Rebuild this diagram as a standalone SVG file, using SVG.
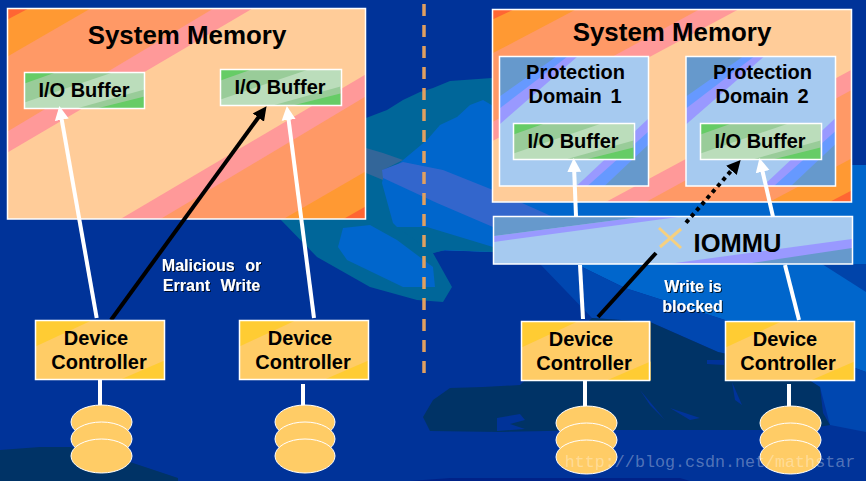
<svg xmlns="http://www.w3.org/2000/svg" width="866" height="481" viewBox="0 0 866 481">
<style>
text{font-family:"Liberation Sans",Arial,sans-serif;font-weight:700;fill:#000;text-anchor:middle}
.t26{font-size:25.900px}.t20{font-size:20px}.t15{font-size:16px;fill:#fff;filter:url(#sh)}.wide{word-spacing:6px}
.box{fill:none;stroke:#fff;stroke-width:1.5}
.wire{stroke:#fff;stroke-width:4;fill:none}
.blk{stroke:#000;stroke-width:4;fill:none}
.disk{fill:#FFCC66;stroke:#fff;stroke-width:1}
</style>
<defs>
<filter id="sh" x="-10%" y="-20%" width="125%" height="150%"><feDropShadow dx="1" dy="1" stdDeviation="0.4" flood-color="#000" flood-opacity=".8"/></filter>
<marker id="aw" markerUnits="userSpaceOnUse" markerWidth="16" markerHeight="16" refX="1" refY="8" orient="auto"><path d="M0,1 14,8 0,15z" fill="#fff"/></marker>
<marker id="ab" markerUnits="userSpaceOnUse" markerWidth="16" markerHeight="16" refX="1" refY="8" orient="auto"><path d="M0,1 14,8 0,15z" fill="#000"/></marker>
<g id="memBg">
<rect width="358" height="210.500" fill="#FFCC99"/>
<path d="M0,144 245,0H0z" fill="#FF9999"/><path d="M0,123 206,0H0z" fill="#FF9966"/><path d="M0,48 83,0H0z" fill="#FF9933"/><path d="M0,11 21,0H0z" fill="#FF6633"/>
<path d="M113,210.500 358,66V210.500z" fill="#FF9999"/><path d="M153,210.500 358,88V210.500z" fill="#FF9966"/><path d="M276,210.500 358,163V210.500z" fill="#FF9933"/><path d="M336,210.500 358,198V210.500z" fill="#FF6633"/>
</g>
<g id="bufBg">
<rect width="120" height="36" fill="#99CC99"/>
<path d="M0,30 88,0H120V17L52,36H0z" fill="#BBDDBB"/>
<path d="M0,11 31,0H0z" fill="#66CC66"/><path d="M72,36 120,24V36z" fill="#66CC66"/>
</g>
<g id="domBg">
<rect width="149" height="129.500" fill="#A6CAF0"/>
<path d="M0,68 78,0H0z" fill="#9999FF"/><path d="M0,52 68,0H0z" fill="#6699FF"/><path d="M0,40 57,0H0z" fill="#6699CC"/>
<path d="M77,129.500 149,62V129.500z" fill="#9999FF"/><path d="M88,129.500 149,75V129.500z" fill="#6699FF"/><path d="M105,129.500 149,88V129.500z" fill="#6699CC"/>
</g>
<g id="ctlBg">
<rect width="129" height="59" fill="#FFCC66"/>
<path d="M0,26 56,0H0z" fill="#FFCC33"/><path d="M85,59 129,40V59z" fill="#FFCC33"/>
</g>
</defs>
<g id="background">
<rect width="866" height="481" fill="#003399"/>
<path d="M280,219 317,257 370,287 417,300 443,302 452,287 433,253 445,250 493,252 560,268 560,150 492,78 450,81 433,88 420,92 403,100 387,110 366,118 366,219z" fill="#006699"/>
<path d="M427,140 440,125 457,117 470,105 483,100 500,110 852,165 866,165 866,372 725,320 678,305 625,288 578,265 520,262 493,252 433,250 427,227 397,227 393,223 382,183 383,178 403,160z" fill="#0066CC"/>
<path d="M397,227 427,227 493,247 560,262 560,268 493,252 445,250 433,253z" fill="#006699"/>
<path d="M366,148 383,153 403,160 383,170 383,180 366,173z" fill="#336699"/>
<path d="M382,170 403,162 443,170 493,190 560,220 560,250 493,227 437,203 383,178z" fill="#3366CC"/>
<path d="M338,247 343,228 370,225 397,240 433,267 435,287 403,287 347,260z" fill="#0066CC"/>
<path d="M822,264 866,292V264z" fill="#0044AA"/>
<path d="M540,264 578,265 625,288 678,305 725,320 866,372V432L830,425 820,387 790,368 718,352 650,322 592,318z" fill="#0047B0"/>
<path d="M423,417 433,400 450,388 483,387 520,385 592,318 650,322 718,352 790,368 820,387 823,413 830,425 800,430 600,430 500,432 430,431z" fill="#003366"/>
<path d="M497,418 520,414 525,420 510,424 525,429 497,431zM640,390 665,420 650,405zM670,408 700,418 690,420zM732,382 742,405 735,400zM707,360 724,360 724,365 707,364z" fill="#003399"/>
<path d="M0,450 40,447 70,447 130,462 178,478V481H0z" fill="#003366"/>
<path d="M410,481 450,478 680,478 690,481z" fill="#002288"/>
<line x1="424" y1="4" x2="424" y2="373" stroke="#E0A060" stroke-width="3.500" stroke-dasharray="12 9"/>
</g>
<g id="memory-left"><use href="#memBg" x="7.500" y="8.500"/><rect class="box" x="7.500" y="8.500" width="358" height="210.500"/><text class="t26" x="187" y="44">System Memory</text></g>
<g id="buffer-l1"><use href="#bufBg" x="24.500" y="72.500"/><rect class="box" x="24.500" y="72.500" width="120" height="36"/><text class="t20" x="84" y="97">I/O Buffer</text></g>
<g id="buffer-l2"><use href="#bufBg" x="220.500" y="69.500"/><rect class="box" x="220.500" y="69.500" width="121" height="36"/><text class="t20" x="280" y="94">I/O Buffer</text></g>
<g id="memory-right"><use href="#memBg" transform="translate(492.500 9.500) scale(1.003 .914)"/><rect class="box" x="492.500" y="9.500" width="359" height="192.500"/><text class="t26" x="672" y="41">System Memory</text></g>
<g id="domain-1"><use href="#domBg" x="499.500" y="56.500"/><rect class="box" x="499.500" y="56.500" width="149" height="129.500"/><text class="t20" x="575.500" y="79">Protection</text><text class="t20" x="575" y="103" style="word-spacing:3px">Domain 1</text></g>
<g id="domain-2"><use href="#domBg" x="686" y="56.500"/><rect class="box" x="686" y="56.500" width="149.500" height="129.500"/><text class="t20" x="762.500" y="79">Protection</text><text class="t20" x="762" y="103" style="word-spacing:3px">Domain 2</text></g>
<g id="buffer-r1"><use href="#bufBg" x="513.500" y="123.500"/><rect class="box" x="513.500" y="123.500" width="121" height="36"/><text class="t20" x="573" y="148">I/O Buffer</text></g>
<g id="buffer-r2"><use href="#bufBg" x="700.500" y="123.500"/><rect class="box" x="700.500" y="123.500" width="121" height="36"/><text class="t20" x="760" y="148">I/O Buffer</text></g>
<g id="iommu">
<rect x="493.500" y="216.500" width="359" height="47.500" fill="#A6CAF0"/>
<path d="M494,236 640,217H678L494,242z" fill="#9999FF"/><path d="M494,217V236L640,217z" fill="#6699CC"/>
<path d="M668,264 852,239V264z" fill="#9999FF"/><path d="M745,264 852,248V264z" fill="#6699CC"/>
<rect class="box" x="493.500" y="216.500" width="359" height="47.500"/>
<text x="737.500" y="252" style="font-size:25.500px">IOMMU</text>
</g>
<g id="connectors">
<path class="wire" marker-end="url(#aw)" d="M96.700,318 61.600,118.800"/>
<path class="wire" marker-end="url(#aw)" d="M314,318 288.500,118.900"/>
<path class="blk" marker-end="url(#ab)" d="M111,320 258.900,116.700"/>
<path class="wire" marker-end="url(#aw)" d="M576,216 574.200,171"/>
<path class="wire" marker-end="url(#aw)" d="M773,216.700 762.400,170.700"/>
<path class="wire" d="M580,265 583,319"/>
<path class="wire" d="M785,265 799,320"/>
<path class="blk" d="M598,317 656,253"/>
<path class="blk" marker-end="url(#ab)" stroke-dasharray="4 4" d="M686,222.700 732.100,169.700"/>
<path d="M659,228 681,248M681,229 660,247" stroke="#F5D080" stroke-width="3" fill="none"/>
<path class="wire" d="M100,379V405M303,384V407M585,380V407M789,384V408"/>
</g>
<g id="controller-l1"><use href="#ctlBg" x="35.500" y="320.500"/><rect class="box" x="35.500" y="320.500" width="129" height="59"/><text class="t20" x="96" y="345">Device</text><text class="t20" x="99" y="369">Controller</text></g>
<g id="controller-l2"><use href="#ctlBg" x="239.500" y="320.500"/><rect class="box" x="239.500" y="320.500" width="129" height="59"/><text class="t20" x="300" y="345">Device</text><text class="t20" x="303" y="369">Controller</text></g>
<g id="controller-r1"><use href="#ctlBg" x="521.500" y="321.500"/><rect class="box" x="521.500" y="321.500" width="128" height="59"/><text class="t20" x="581" y="346">Device</text><text class="t20" x="584" y="370">Controller</text></g>
<g id="controller-r2"><use href="#ctlBg" x="725.500" y="321.500"/><rect class="box" x="725.500" y="321.500" width="129" height="59"/><text class="t20" x="785" y="346">Device</text><text class="t20" x="788" y="370">Controller</text></g>
<g id="disk-l1"><ellipse class="disk" cx="101.500" cy="422" rx="30.500" ry="17"/><ellipse class="disk" cx="101.500" cy="439" rx="30.500" ry="17"/><ellipse class="disk" cx="101.500" cy="456" rx="30.500" ry="17"/></g>
<g id="disk-l2"><ellipse class="disk" cx="305" cy="422" rx="30" ry="17"/><ellipse class="disk" cx="305" cy="439" rx="30" ry="17"/><ellipse class="disk" cx="305" cy="456" rx="30" ry="17"/></g>
<g id="disk-r1"><ellipse class="disk" cx="586.500" cy="423" rx="30.500" ry="17"/><ellipse class="disk" cx="586.500" cy="440" rx="30.500" ry="17"/><ellipse class="disk" cx="586.500" cy="457" rx="30.500" ry="17"/></g>
<g id="disk-r2"><ellipse class="disk" cx="790.500" cy="423" rx="30.500" ry="17"/><ellipse class="disk" cx="790.500" cy="440" rx="30.500" ry="17"/><ellipse class="disk" cx="790.500" cy="457" rx="30.500" ry="17"/></g>
<g id="labels">
<text class="t15 wide" x="211.500" y="271">Malicious or</text>
<text class="t15 wide" x="211.500" y="291">Errant Write</text>
<text class="t15" x="693" y="292">Write is</text>
<text class="t15" x="692.500" y="312">blocked</text>
<text x="710" y="467" style="font-family:'Liberation Mono',monospace;font-weight:400;font-size:16.700px;fill:#fff;fill-opacity:.32">http://blog.csdn.net/mathstar</text>
</g>
</svg>
